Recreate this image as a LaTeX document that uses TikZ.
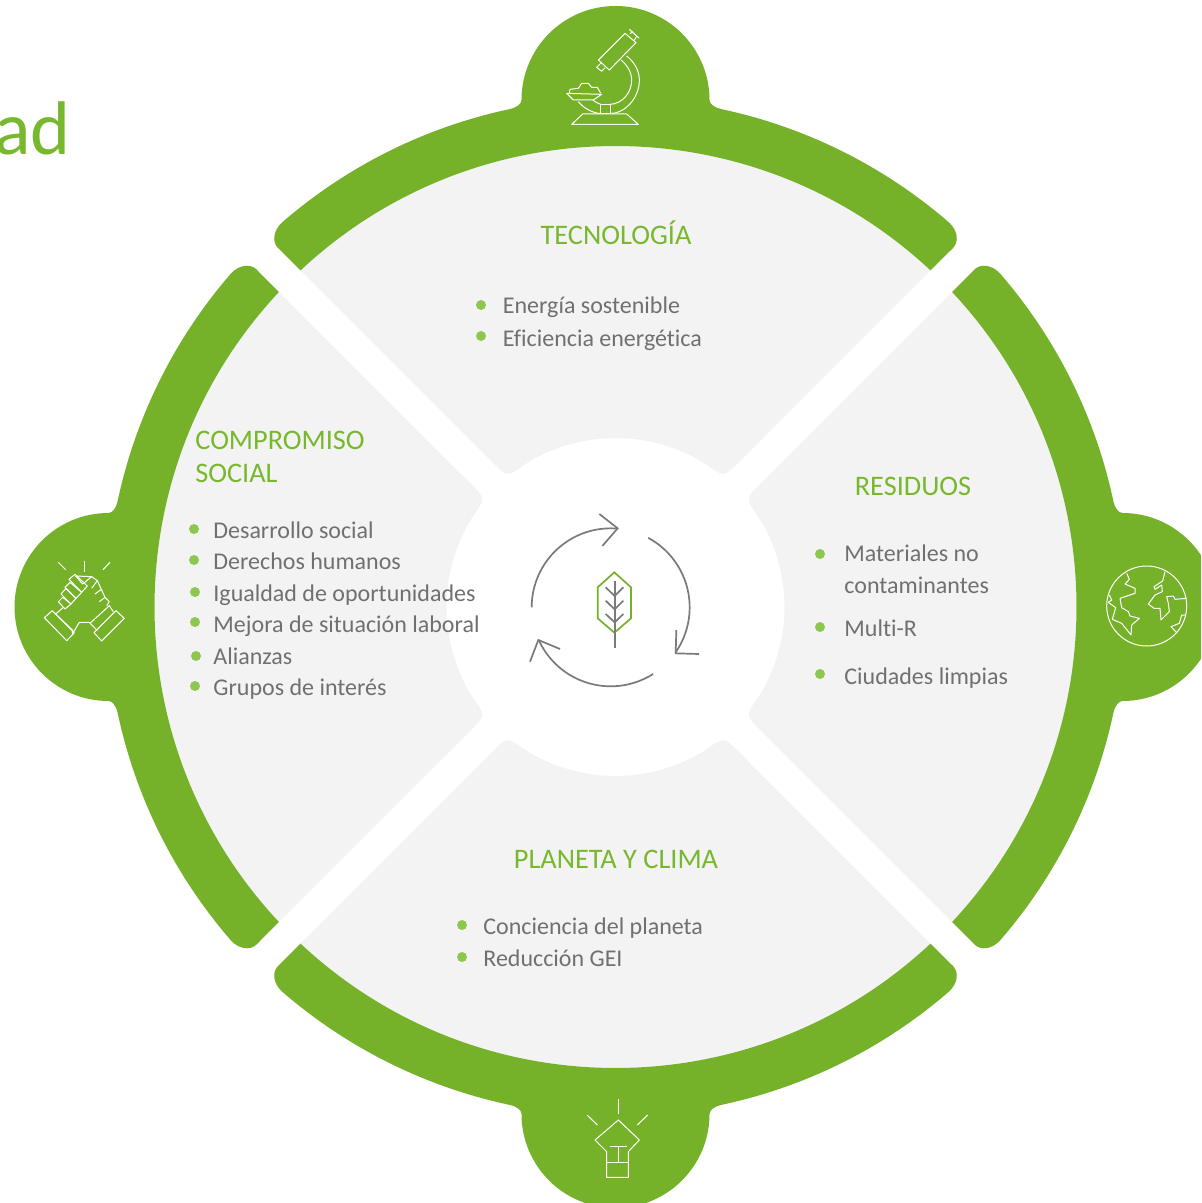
\documentclass[tikz,border=0pt]{standalone}
\usepackage{fontspec}
\setmainfont[Ligatures=NoCommon]{Carlito}
\newlength{\du}
\setlength{\du}{0.5pt}
\definecolor{ringgreen}{rgb}{0.458824, 0.698039, 0.164706}
\definecolor{bulletgreen}{rgb}{0.556863, 0.780392, 0.309804}
\definecolor{titlegreen}{rgb}{0.470588, 0.721569, 0.180392}
\definecolor{sectorgray}{rgb}{0.953000, 0.953000, 0.953000}
\definecolor{textgray}{rgb}{0.440000, 0.440000, 0.440000}
\definecolor{cyclegray}{rgb}{0.478431, 0.478431, 0.478431}
\tikzset{
  sectorfill/.style={fill=sectorgray},
  ringfill/.style={fill=ringgreen},
  iconline/.style={draw=white,line width=0.5pt,line join=round},
  cycleline/.style={draw=cyclegray,line width=0.85pt},
  titletext/.style={text=titlegreen,font=\fontsize{14.15}{16}\selectfont,inner sep=0pt},
  itemtext/.style={text=textgray,font=\fontsize{12}{14}\selectfont,anchor=base west,inner sep=0pt},
  bulletdot/.style={circle,fill=bulletgreen,inner sep=0pt,minimum size=10\du},
}
% one quarter of the disc, drawn at the top and turned for the others
\newcommand{\graypiece}{
\fill[sectorfill] (226.9:461\du) arc (226.9:313.1:461\du)
  -- (122.5\du,-144\du) .. controls (108.3\du,-129.8\du) and (108.3\du,-129.8\du) .. (302.2:169\du)
  arc (302.2:237.8:169\du)
  .. controls (-108.3\du,-129.8\du) and (-108.3\du,-129.8\du) .. (-122.5\du,-144\du) -- cycle;
}
\newcommand{\greenpiece}{
\fill[ringfill] (226.9:461\du) -- (-337.5\du,-359\du)
  .. controls (-343.8\du,-365.3\du) and (-342\du,-376.6\du) .. (229.03:509\du)
  arc (229.03:258.04:509\du)
  .. controls (-99.2\du,-499.3\du) and (-94\du,-503\du) .. (-94\du,-507\du)
  arc (180:360:94\du)
  .. controls (94\du,-503\du) and (99.2\du,-499.3\du) .. (281.96:509\du)
  arc (281.96:310.97:509\du)
  .. controls (342\du,-376.6\du) and (343.8\du,-365.3\du) .. (337.5\du,-359\du)
  -- (313.1:461\du) arc (313.1:226.9:461\du) -- cycle;
}

\begin{document}
\begin{tikzpicture}
\pgftransformyscale{-1.000000}
\useasboundingbox (0\du,0\du) rectangle (1201\du,1203\du);
\clip (0\du,0\du) rectangle (1201\du,1203\du);
\fill[white] (0\du,0\du) rectangle (1201\du,1203\du);
\node[anchor=base east,text=titlegreen,font=\fontsize{38}{40}\selectfont,inner sep=0pt] (bigword) at (71\du,155\du){ad};
\begin{scope}[shift={(615.5\du,607\du)}]
\graypiece
\greenpiece
\end{scope}
\begin{scope}[shift={(615.5\du,607\du)},rotate=90]
\graypiece
\greenpiece
\end{scope}
\begin{scope}[shift={(615.5\du,607\du)},rotate=180]
\graypiece
\greenpiece
\end{scope}
\begin{scope}[shift={(615.5\du,607\du)},rotate=270]
\graypiece
\greenpiece
\end{scope}
% microscope
\begin{scope}[shift={(510\du,0\du)},scale=0.333333,iconline]
\draw (265\du,180\du)--(345\du,100\du)--(378\du,128\du)--(298\du,210\du)--cycle;
\draw (272\du,190\du)--(260\du,202\du)--(275\du,214\du)--(285\du,203\du);
\draw (358\du,88\du)--(388\du,115\du);
\draw (360\du,101\du)--(369\du,95\du);
\draw (372\du,122\du)--(380\du,109\du);
\draw (350\du,168\du) .. controls (378\du,190\du) and (388\du,218\du) .. (388\du,240\du) .. controls (388\du,295\du) and (345\du,340\du) .. (300\du,341\du);
\draw (333\du,180\du) .. controls (352\du,195\du) and (365\du,218\du) .. (365\du,240\du) .. controls (365\du,280\du) and (335\du,312\du) .. (300\du,313\du);
\draw (205\du,305\du) .. controls (222\du,325\du) and (245\du,338\du) .. (272\du,341\du);
\draw (248\du,300\du) .. controls (255\du,305\du) and (262\du,310\du) .. (272\du,313\du);
\draw (272\du,314\du) rectangle (300\du,342\du);
\draw (218\du,342\du)--(350\du,342\du)--(385\du,373\du)--(185\du,373\du)--cycle;
\draw (170\du,280\du)--(275\du,283\du)--(250\du,300\du)--(190\du,300\du)--cycle;
\draw (178\du,280\du)--(180\du,268\du)--(205\du,265\du)--(215\du,250\du)--(235\du,250\du)--(245\du,262\du)--(262\du,262\du)--(272\du,280\du);
\end{scope}
% handshake
\begin{scope}[shift={(10\du,510\du)},scale=0.333333,iconline]
\draw (103\du,323\du)--(127\du,302\du)--(193\du,368\du)--(170\du,392\du)--cycle;
\draw (252\du,368\du)--(318\du,302\du)--(343\du,325\du)--(275\du,393\du)--cycle;
\draw (145\du,275\du)--(158\du,262\du)--(183\du,282\du)--(165\du,297\du)--cycle;
\draw (153\du,252\du)--(168\du,235\du)--(198\du,265\du)--(183\du,282\du)--cycle;
\draw (165\du,232\du)--(180\du,217\du)--(215\du,247\du)--(198\du,265\du)--cycle;
\draw (177\du,208\du)--(195\du,193\du)--(232\du,228\du)--(215\du,247\du)--cycle;
\draw (137\du,312\du)--(160\du,292\du);
\draw (137\du,312\du)--(187\du,360\du)--(187\du,372\du)--(208\du,337\du)--(238\du,337\du)--(262\du,362\du);
\draw (240\du,340\du)--(298\du,287\du)--(310\du,305\du);
\draw (197\du,198\du)--(245\du,200\du)--(218\du,222\du)--cycle;
\draw (245\du,200\du)--(262\du,212\du)--(245\du,235\du);
\draw (262\du,212\du)--(274\du,238\du)--(255\du,252\du);
\draw (274\du,238\du)--(285\du,262\du)--(268\du,275\du);
\draw (285\du,262\du)--(298\du,275\du)--(290\du,287\du);
\draw (223\du,153\du)--(223\du,186\du);
\draw (145\du,157\du)--(167\du,179\du);
\draw (300\du,157\du)--(279\du,179\du);
\end{scope}
% globe
\begin{scope}[shift={(1080\du,510\du)},scale=0.333333,iconline]
\draw (200\du,288\du) circle (120\du);
\draw (140\du,190\du)--(148\du,208\du)--(135\du,222\du)--(165\du,235\du)--(165\du,250\du)--(120\du,265\du)--(125\du,293\du)--(145\du,305\du)--(150\du,318\du)--(178\du,325\du)--(155\du,345\du)--(153\du,375\du)--(125\du,340\du)--(97\du,328\du)--(107\du,293\du)--(85\du,277\du)--(95\du,270\du)--(88\du,255\du);
\draw (255\du,185\du)--(248\du,213\du)--(222\du,230\du)--(225\du,238\du)--(245\du,225\du)--(247\du,245\du)--(225\du,255\du)--(205\du,282\du)--(222\du,295\du)--(240\du,295\du)--(243\du,330\du)--(268\du,305\du)--(265\du,280\du)--(260\du,260\du)--(280\du,258\du)--(285\du,268\du)--(320\du,265\du);
\draw (315\du,315\du)--(305\du,315\du)--(298\du,340\du)--(273\du,350\du)--(290\du,368\du);
\end{scope}
% bulb
\begin{scope}[shift={(510\du,1080\du)},scale=0.333333,iconline]
\draw (290\du,292\du)--(290\du,215\du)--(255\du,180\du)--(325\du,120\du)--(388\du,180\du)--(355\du,215\du)--(355\du,292\du)--cycle;
\draw (290\du,247\du)--(355\du,247\du);
\draw (300\du,200\du)--(350\du,200\du);
\draw (325\du,200\du)--(325\du,247\du);
\draw (325\du,58\du)--(325\du,102\du);
\draw (231\du,105\du)--(262\du,135\du);
\draw (413\du,105\du)--(382\du,135\du);
\end{scope}
% cycle and leaf
\begin{scope}[shift={(510\du,500\du)},scale=0.333333,cycleline]
\draw (302\du,322\du) ++(180:237\du) arc (180:275:237\du);
\draw (268\du,42\du)--(323\du,85\du)--(277\du,138\du);
\draw (302\du,322\du) ++(298.4:237\du) arc (298.4:395:237\du);
\draw (499\du,390\du)--(497\du,460\du)--(567\du,462\du);
\draw (302\du,322\du) ++(57.5:237\du) arc (57.5:155.7:237\du);
\draw (150\du,447\du)--(85\du,420\du)--(60\du,485\du);
\draw[draw=ringgreen] (313\du,217\du)--(363\du,262\du)--(363\du,355\du)--(313\du,398\du)--(263\du,355\du)--(263\du,262\du)--cycle;
\draw (314\du,243\du)--(314\du,443\du);
\draw (287\du,262\du)--(314\du,288\du)--(340\du,262\du);
\draw (287\du,302\du)--(314\du,328\du)--(340\du,302\du);
\draw (287\du,342\du)--(314\du,367\du)--(340\du,342\du);
\end{scope}
% top
\node[titletext] (tecnologia) at (616\du,233\du){TECNOLOGÍA};
\node[bulletdot] (dotenergia) at (481\du,305\du){};
\node[itemtext] (energia) at (502.5\du,314\du){Energía sostenible};
\node[bulletdot] (doteficiencia) at (481\du,336\du){};
\node[itemtext] (eficiencia) at (502.5\du,346\du){Eficiencia energética};
% left
\node[titletext,anchor=base west] (compromiso) at (195\du,449\du){COMPROMISO};
\node[titletext,anchor=base west] (social) at (195\du,482\du){SOCIAL};
\node[bulletdot] (dotdesarrollo) at (194\du,529\du){};
\node[itemtext] (desarrollo) at (213\du,538\du){Desarrollo social};
\node[bulletdot] (dotderechos) at (194\du,560\du){};
\node[itemtext] (derechos) at (213\du,569\du){Derechos humanos};
\node[bulletdot] (dotigualdad) at (195\du,592\du){};
\node[itemtext] (igualdad) at (213\du,601\du){Igualdad de oportunidades};
\node[bulletdot] (dotmejora) at (195\du,622\du){};
\node[itemtext] (mejora) at (213\du,632\du){Mejora de situación laboral};
\node[bulletdot] (dotalianzas) at (196\du,656\du){};
\node[itemtext] (alianzas) at (213\du,664\du){Alianzas};
\node[bulletdot] (dotgrupos) at (195\du,686\du){};
\node[itemtext] (grupos) at (213\du,695\du){Grupos de interés};
% right
\node[titletext] (residuos) at (913\du,486\du){RESIDUOS};
\node[bulletdot] (dotmateriales) at (820\du,554\du){};
\node[itemtext] (materiales) at (844\du,561\du){Materiales no};
\node[itemtext] (contaminantes) at (844\du,593\du){contaminantes};
\node[bulletdot] (dotmulti) at (820\du,627\du){};
\node[itemtext] (multi) at (844\du,636\du){Multi-R};
\node[bulletdot] (dotciudades) at (820\du,674\du){};
\node[itemtext] (ciudades) at (844\du,684\du){Ciudades limpias};
% bottom
\node[titletext] (planeta) at (616\du,859\du){PLANETA Y CLIMA};
\node[bulletdot] (dotconciencia) at (462\du,925\du){};
\node[itemtext] (conciencia) at (483\du,934\du){Conciencia del planeta};
\node[bulletdot] (dotreduccion) at (462\du,957\du){};
\node[itemtext] (reduccion) at (483\du,966\du){Reducción GEI};
\end{tikzpicture}
\end{document}
